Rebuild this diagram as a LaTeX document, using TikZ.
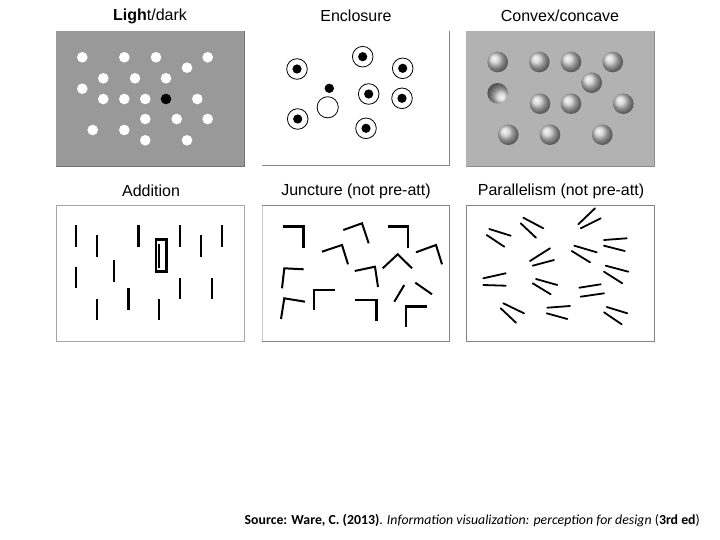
\documentclass[tikz,border=0pt]{standalone}
\usepackage{fontspec}
\setmainfont{Liberation Sans}
\newfontfamily\srcfont{Carlito}
\begin{document}
\begin{tikzpicture}[x=1pt,y=-1pt,
  ttl/.style={font=\fontsize{16}{18}\selectfont, anchor=center, inner sep=0pt},
  bord/.style={draw=black!48, line width=0.9pt},
  wdot/.style={fill=white},
  ring/.style={draw=black, line width=0.8pt, fill=white},
  vbar/.style={line width=2pt},
  tbar/.style={line width=2.8pt},
  jn/.style={line width=2pt, line cap=butt, line join=miter},
  jt/.style={line width=2.8pt, line cap=butt, line join=miter},
  pl/.style={line width=1.8pt, line cap=round}
]
\useasboundingbox (0,0) rectangle (720,540);
\fill[white] (0,0) rectangle (720,540);

% ---------- titles ----------
\node[ttl] (t1) at (150,16) {\textbf{Ligh}t/dark};
\node[ttl] (t2) at (356,16) {Enclosure};
\node[ttl] (t3) at (560,16) {Convex/concave};
\node[ttl] (t4) at (151,191) {Addition};
\node[ttl] (t5) at (356,191) {Juncture (not pre-att)};
\node[ttl] (t6) at (561,191) {Parallelism (not pre-att)};

% ---------- Light/dark ----------
\fill[black!40] (56,31) rectangle (244,166);
\draw[black!55, line width=0.9pt] (56,166) -- (244,166) -- (244,31);
\foreach \x/\y in {82.3/57.3,124.3/57.3,156/57.3,207.7/57.3,187/67.7,
  103.3/78.3,135/78.3,166/78.3,82.3/88.7,103.3/99,124.3/99,145.3/99,
  197.3/99,145.3/119,176.7/119,207.7/119,92.7/130,124.3/130,145.3/140.3,187/140.3}
  \fill[wdot] (\x,\y) circle (5.3);
\fill[black] (166,99) circle (5.3);

% ---------- Enclosure ----------
\draw[bord] (262,165) -- (449.3,165) -- (449.3,31);
\foreach \x/\y in {297/69,362.7/56.7,402.7/68.3,368.7/94,402/98.3,297.7/119,366/128.3}{
  \draw[ring] (\x,\y) circle (10.3);
  \fill[black] (\x,\y) circle (4.6);
}
\fill[black] (329.3,88.3) circle (4.7);
\draw[ring] (327.7,107.3) circle (10.6);

% ---------- Convex/concave ----------
\fill[black!30] (466,31) rectangle (654.3,166);
\draw[black!45, line width=0.9pt] (466,166) -- (654.3,166) -- (654.3,31);
\foreach \x/\y in {497.7/62,539.3/62,571/62,612.7/62,591.7/82.7,
  540/103.7,571/103.7,623.3/103.7,508.3/134.7,550/134.7,602.3/134.7}
  \shade[ball color=black!20] (\x,\y) circle (10.3);
\shade[ball color=black!20, shading angle=180] (497.7,93.3) circle (10.3);

% ---------- Addition ----------
\draw[bord, draw=black!35] (56,205.7) rectangle (244.3,341);
\foreach \x/\a/\b in {76/225/246.7,96.7/235/256.7,180/225/246.7,201/235/256.7,
  221.7/225/246.7,76/266.7/288.3,114/260/281.7,180/278.3/299,211.7/278.3/299,
  96.7/299/320,159/299/320}
  \draw[vbar] (\x,\a) -- (\x,\b);
\draw[tbar] (138.3,225) -- (138.3,246.7);
\draw[tbar] (128.3,288.3) -- (128.3,310);
\draw[line width=2.6pt] (156,239.3) rectangle (166.3,271.3);
\draw[line width=1.3pt] (159,244.3) -- (159,267.7);

% ---------- Juncture ----------
\draw[bord] (262,205.7) -- (449.3,205.7) -- (449.3,341) -- (262,341);
\draw[black!20, line width=0.6pt] (262,205.7) -- (262,341);
\draw[jt] (282.7,226.7) -- (303.7,226.7) -- (303.7,247.7);
\draw[jn] (343.3,230) -- (362,223.3) -- (368.7,243.3);
\draw[jt] (387.7,226.7) -- (408,226.7) -- (408,247.7);
\draw[jn] (322,251.7) -- (342,245) -- (348,264.3);
\draw[jn] (416,252.3) -- (436,245) -- (442,264.3);
\draw[jn] (382.7,268.3) -- (397.7,254.3) -- (412,268.3);
\draw[jn] (282,288.3) -- (284.3,268.3) -- (303.7,269.3);
\draw[jn] (354.7,271) -- (375,266.7) -- (378,287);
\draw[jn] (281,319) -- (284.3,298.3) -- (305,301.7);
\draw[jn] (314.3,310) -- (314.3,290) -- (334.7,290);
\draw[jt] (355.3,300) -- (376.7,300) -- (376.7,320.7);
\draw[jn] (394.3,301.7) -- (404.3,285);
\draw[jn] (415.3,282.7) -- (432,294.3);
\draw[jt] (406,326.7) -- (406,306.7) -- (426.7,306.7);

% ---------- Parallelism ----------
\draw[bord] (466,205.7) rectangle (654.3,341);
\foreach \a/\b/\c/\d in {
  489.3/229/510.7/235.7, 486.7/235/504.3/246.7,
  523.3/217.7/543.3/228.3, 520.7/223.3/536/237.7,
  595/208.3/578.3/224.3, 580.7/228.3/600.7/218.3,
  604/240/626.7/238.3, 604/245.7/624.7/251,
  574.3/245.7/596.7/252.3, 571.7/251/590/262.3,
  530/261/550/248.3, 532.7/265.7/554/260,
  605.7/265.7/628.3/271.7, 604/271.7/622.3/283.3,
  483.3/278.3/505.7/273.3, 483.3/285/505.7/285.7,
  536/279/557.3/285, 532.7/283.3/550.7/294.3,
  579.3/287.7/600.7/284.3, 580.7/296.7/604/293.3,
  503.3/303.3/524/313.3, 500.7/308.3/516/322.7,
  547.3/307.7/570/306, 546.7/313.3/567.3/319,
  606.7/307/627.3/313.3, 604/312.3/621.7/324.3}
  \draw[pl] (\a,\b) -- (\c,\d);

% ---------- source ----------
\node[anchor=east, inner sep=0pt, font=\srcfont\fontsize{13.8}{16}\selectfont] (src) at (700,521)
  {\textbf{Source: Ware, C. (2013)}. \textit{Information visualization: perception for design} (\textbf{3rd ed})};
\end{tikzpicture}
\end{document}
